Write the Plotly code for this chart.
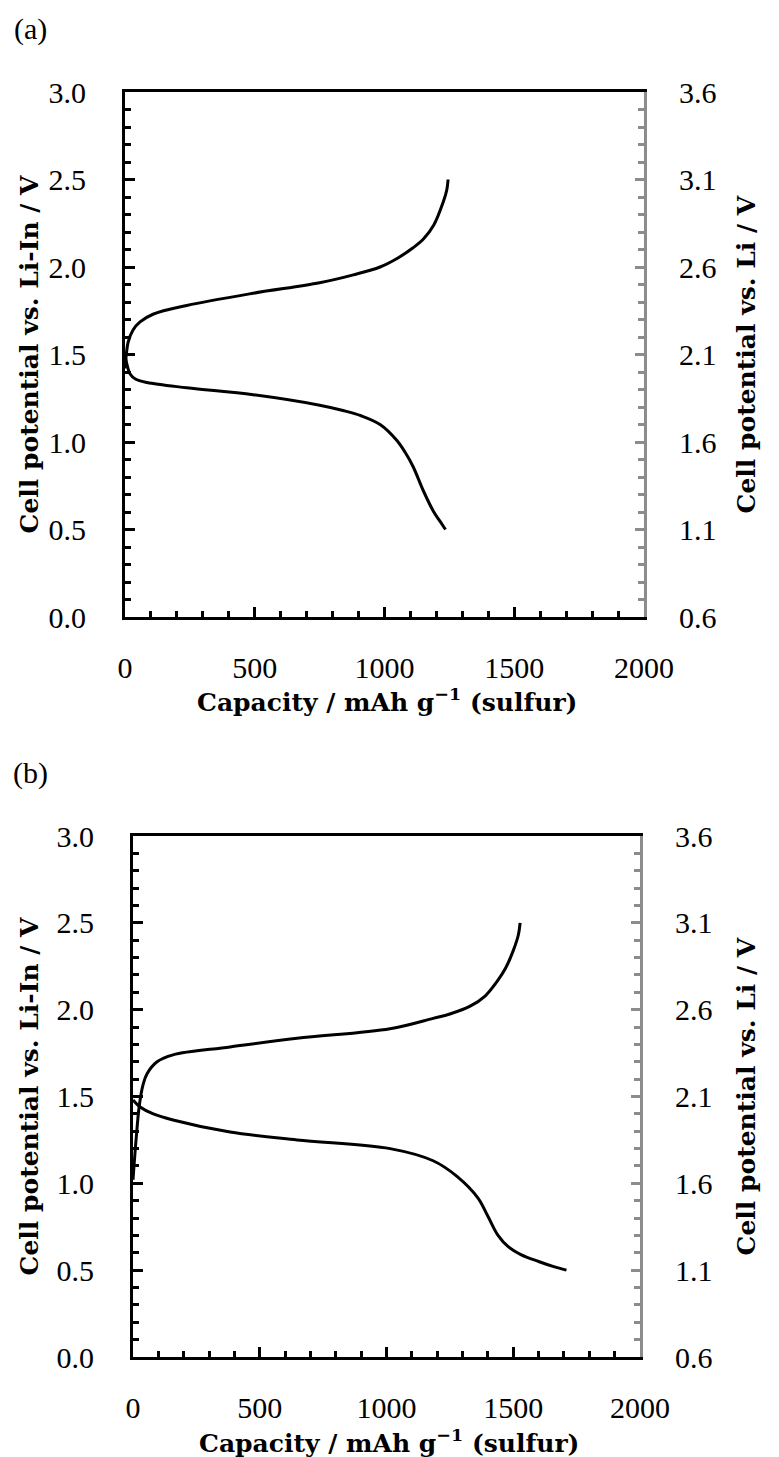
import plotly.graph_objects as go

# ---- data ----
cap_a_charge = [0, 5, 12, 31, 58, 108, 238, 494, 750, 880, 983, 1050, 1110, 1150, 1190, 1226, 1240, 1245]
v_a_charge = [1.42, 1.50, 1.57, 1.64, 1.686, 1.73, 1.78, 1.85, 1.91, 1.955, 2.00, 2.05, 2.11, 2.16, 2.24, 2.37, 2.44, 2.50]
cap_a_dis = [0, 8, 19, 40, 85, 238, 494, 750, 840, 910, 983, 1047, 1080, 1110, 1150, 1190, 1215, 1235]
v_a_dis = [1.50, 1.44, 1.39, 1.36, 1.34, 1.31, 1.27, 1.21, 1.18, 1.15, 1.10, 1.01, 0.94, 0.86, 0.72, 0.60, 0.545, 0.50]

cap_b_charge = [0, 12, 25, 40, 55, 95, 158, 383, 647, 1014, 1184, 1250, 1330, 1390, 1435, 1470, 1500, 1520, 1527]
v_b_charge = [1.02, 1.25, 1.45, 1.57, 1.63, 1.70, 1.74, 1.785, 1.835, 1.89, 1.95, 1.975, 2.02, 2.08, 2.16, 2.24, 2.34, 2.43, 2.50]
cap_b_dis = [0, 28, 80, 158, 383, 647, 1014, 1184, 1278, 1361, 1400, 1440, 1480, 1530, 1600, 1660, 1710]
v_b_dis = [1.48, 1.44, 1.40, 1.365, 1.295, 1.25, 1.20, 1.13, 1.04, 0.915, 0.81, 0.70, 0.635, 0.59, 0.55, 0.52, 0.50]

panel_labels = ["(a)", "(b)"]
x_title = "Capacity / mAh g<sup>−1</sup> (sulfur)"
y_title_left = "Cell potential vs. Li-In / V"
y_title_right = "Cell potential vs. Li / V"
x_range = [0, 2000]
y_range = [0, 3.0]
y2_range = [0.6, 3.6]

W, H = 779, 1457
TICKFONT = dict(family="Liberation Serif", size=30, color="black")
TITLEFONT = dict(family="DejaVu Serif", size=25, color="black", weight="bold")

fig = go.Figure()
line = dict(color="black", width=3, shape="spline", smoothing=1.0)
fig.add_trace(go.Scatter(x=cap_a_charge, y=v_a_charge, mode="lines", line=line, xaxis="x", yaxis="y", showlegend=False))
fig.add_trace(go.Scatter(x=cap_a_dis, y=v_a_dis, mode="lines", line=line, xaxis="x", yaxis="y", showlegend=False))
fig.add_trace(go.Scatter(x=cap_b_charge, y=v_b_charge, mode="lines", line=line, xaxis="x2", yaxis="y3", showlegend=False))
fig.add_trace(go.Scatter(x=cap_b_dis, y=v_b_dis, mode="lines", line=line, xaxis="x2", yaxis="y3", showlegend=False))
# invisible traces to activate the right axes
fig.add_trace(go.Scatter(x=[None], y=[None], xaxis="x", yaxis="y2", showlegend=False))
fig.add_trace(go.Scatter(x=[None], y=[None], xaxis="x2", yaxis="y4", showlegend=False))

def px_x(p):
    return p / W

def px_y(p):
    return 1 - p / H

panels = [
    dict(l=125, r=644, t=92, b=617, x="x", y="y", y2="y2", xkey="xaxis", ykey="yaxis", y2key="yaxis2"),
    dict(l=133, r=640, t=836, b=1357, x="x2", y="y3", y2="y4", xkey="xaxis2", ykey="yaxis3", y2key="yaxis4"),
]

layout = {}
annotations = []
for i, p in enumerate(panels):
    xd = [px_x(p["l"]), px_x(p["r"])]
    yd = [px_y(p["b"]), px_y(p["t"])]
    layout[p["xkey"]] = dict(
        domain=xd, range=x_range, anchor=p["y"], showgrid=False, zeroline=False, automargin=False,
        showline=True, linecolor="black", linewidth=3, mirror=True,
        ticks="inside", ticklen=10, tickwidth=3, tickcolor="black",
        dtick=500, tick0=0, tickfont=TICKFONT, ticklabelstandoff=22,
        minor=dict(ticks="inside", dtick=100, ticklen=6, tickwidth=3, tickcolor="black"),
    )
    layout[p["ykey"]] = dict(
        domain=yd, range=y_range, anchor=p["x"], showgrid=False, zeroline=False, automargin=False,
        showline=True, linecolor="black", linewidth=3,
        ticks="inside", ticklen=10, tickwidth=3, tickcolor="black",
        dtick=0.5, tick0=0, tickformat=".1f", tickfont=TICKFONT, ticklabelstandoff=30,
        minor=dict(ticks="inside", dtick=0.1, ticklen=6, tickwidth=3, tickcolor="black"),
    )
    layout[p["y2key"]] = dict(
        range=y2_range, overlaying=p["y"], anchor=p["x"], side="right", automargin=False,
        showgrid=False, zeroline=False,
        showline=True, linecolor="#8c8c8c", linewidth=3,
        ticks="inside", ticklen=9, tickwidth=2.5, tickcolor="#8c8c8c",
        dtick=0.5, tick0=0.6, tickformat=".1f", tickfont=TICKFONT, ticklabelstandoff=26,
        minor=dict(ticks="inside", dtick=0.1, ticklen=6, tickwidth=2.5, tickcolor="#8c8c8c"),
    )
    cy = px_y((p["t"] + p["b"]) / 2)
    annotations.append(dict(text=panel_labels[i], x=px_x(30), y=px_y(p["t"] - 63), xref="paper", yref="paper",
                            showarrow=False, font=dict(family="Liberation Serif", size=30, color="black"),
                            xanchor="center", yanchor="middle"))
    annotations.append(dict(text=x_title, x=px_x((p["l"] + p["r"]) / 2 + 2), y=px_y(p["b"] + 84), xref="paper", yref="paper",
                            showarrow=False, font=TITLEFONT, xanchor="center", yanchor="middle"))
    annotations.append(dict(text=y_title_left, x=px_x(29), y=cy, xref="paper", yref="paper", textangle=-90,
                            showarrow=False, font=TITLEFONT, xanchor="center", yanchor="middle"))
    annotations.append(dict(text=y_title_right, x=px_x(746), y=cy, xref="paper", yref="paper", textangle=-90,
                            showarrow=False, font=TITLEFONT, xanchor="center", yanchor="middle"))

fig.update_layout(
    width=W, height=H, margin=dict(l=0, r=0, t=0, b=0, autoexpand=False),
    paper_bgcolor="white", plot_bgcolor="white",
    annotations=annotations, **layout,
)

fig.write_html("out.html")
